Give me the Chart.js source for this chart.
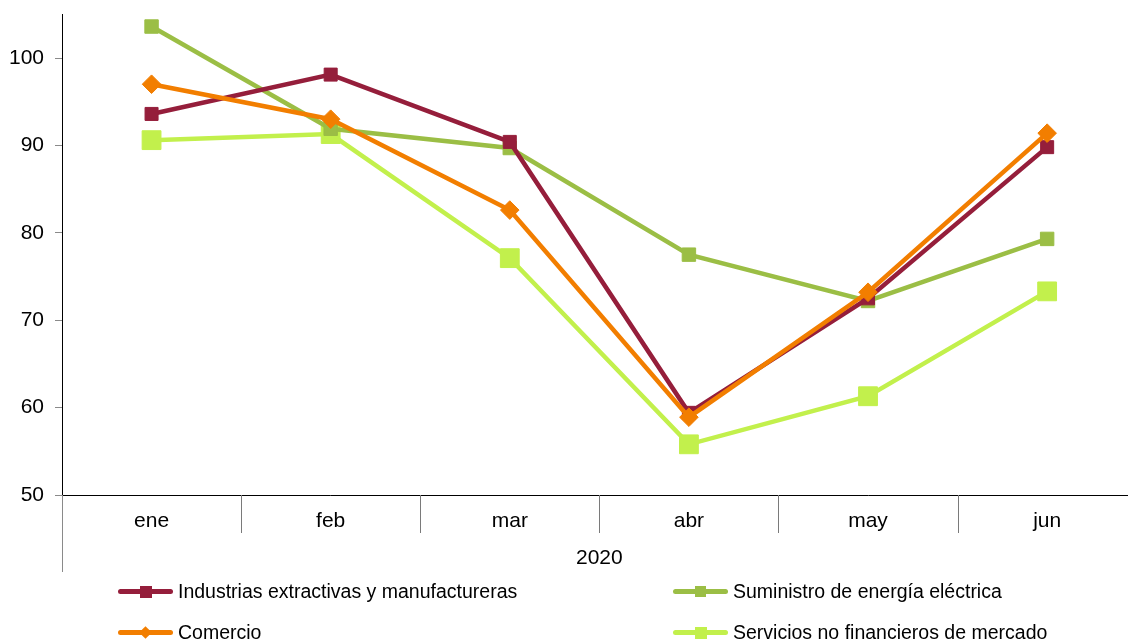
<!DOCTYPE html>
<html>
<head>
<meta charset="utf-8">
<script src="https://cdn.jsdelivr.net/npm/chart.js@4/dist/chart.umd.min.js"></script>
<style>
  html, body { margin: 0; padding: 0; background: #fff; overflow: hidden; width: 1128px; height: 640px; }
  #wrap { position: absolute; left: 0; top: 0; width: 1151px; height: 640px; }
  .leg { position: absolute; font-family: "Liberation Sans", Arial, sans-serif; font-size: 19.5px; color: #000; white-space: nowrap; line-height: 22px; }
  .leg .ln { position: absolute; left: 0; top: 9px; width: 55px; height: 5px; border-radius: 2.5px; }
  .leg .mk { position: absolute; }
  .leg .tx { position: absolute; left: 60px; top: 0; }
</style>
</head>
<body>
<div id="wrap"><canvas id="c" width="1151" height="640"></canvas></div>
<div id="legend"></div>
<script>
const categories = ["ene", "feb", "mar", "abr", "may", "jun"];
const groupLabel = "2020";
const seriesNames = [
  "Industrias extractivas y manufactureras",
  "Suministro de energía eléctrica",
  "Comercio",
  "Servicios no financieros de mercado"
];
const industrias = [93.6, 98.1, 90.4, 59.4, 72.5, 89.8];
const suministro = [103.6, 91.9, 89.7, 77.5, 72.2, 79.3];
const comercio   = [97.0, 93.0, 82.6, 58.9, 73.2, 91.4];
const servicios  = [90.6, 91.3, 77.1, 55.8, 61.3, 73.3];
const yTicks = [50, 60, 70, 80, 90, 100];
const colors = ["#951E3B", "#9BBE45", "#F27E00", "#C2F04C"];

const font = { family: "'Liberation Sans', Arial, sans-serif", size: 21 };

const extras = {
  id: 'extras',
  afterDraw(chart) {
    const ctx = chart.ctx;
    const xs = chart.scales.x;
    const ca = chart.chartArea;
    ctx.save();
    ctx.strokeStyle = '#7a7a7a';
    ctx.lineWidth = 1;
    for (let i = 1; i < categories.length + 1; i++) {
      const x = Math.round(xs.getPixelForValue(i - 0.5)) + 0.5;
      ctx.beginPath();
      ctx.moveTo(x, ca.bottom);
      ctx.lineTo(x, ca.bottom + 38);
      ctx.stroke();
    }
    const lx = Math.round(ca.left) + 0.5;
    ctx.strokeStyle = '#8a8a8a';
    ctx.beginPath();
    ctx.moveTo(lx, ca.bottom);
    ctx.lineTo(lx, 572);
    ctx.stroke();
    ctx.fillStyle = '#000';
    ctx.font = font.size + "px " + font.family;
    ctx.textAlign = 'center';
    ctx.textBaseline = 'middle';
    ctx.fillText(groupLabel, (ca.left + ca.right) / 2, 558);
    ctx.restore();
  }
};

function ds(i, data, style, radius, order) {
  return {
    label: seriesNames[i],
    data: data,
    borderColor: colors[i],
    backgroundColor: colors[i],
    borderWidth: 4.5,
    pointStyle: style,
    pointRadius: radius,
    pointHoverRadius: radius,
    pointBorderWidth: 1,
    pointBorderColor: colors[i],
    pointBackgroundColor: colors[i],
    tension: 0,
    order: order
  };
}

new Chart(document.getElementById('c'), {
  type: 'line',
  data: {
    labels: categories,
    datasets: [
      ds(0, industrias, 'rect', 9.2, 2),
      ds(1, suministro, 'rect', 9.5, 3),
      ds(2, comercio, 'rectRot', 9.3, 1),
      ds(3, servicios, 'rect', 13.3, 4)
    ]
  },
  options: {
    responsive: false,
    animation: false,
    events: [],
    layout: { padding: { top: 13, right: 3, left: 0, bottom: 0 } },
    plugins: { legend: { display: false }, tooltip: { enabled: false } },
    scales: {
      x: {
        type: 'category',
        offset: true,
        grid: { display: false },
        border: { display: true, color: '#000', width: 1 },
        ticks: { color: '#000', font: font, padding: 6, maxRotation: 0 },
        afterFit(scale) { scale.height = 145; scale.paddingLeft = 0; scale.paddingRight = 0; }
      },
      y: {
        min: 50,
        max: 105,
        grid: { display: true, drawOnChartArea: false, drawTicks: true, tickLength: 7, color: '#8a8a8a' },
        border: { display: true, color: '#000', width: 1 },
        ticks: { stepSize: 10, color: '#000', font: font, padding: 11 },
        afterBuildTicks(scale) { scale.ticks = yTicks.map(v => ({ value: v })); },
        afterFit(scale) { scale.width = 62; scale.paddingTop = 0; scale.paddingBottom = 0; }
      }
    }
  },
  plugins: [extras]
});

// HTML legend
const legendPos = [
  { x: 118, y: 580, marker: 'sq', size: 12 },
  { x: 673, y: 580, marker: 'sq', size: 11 },
  { x: 118, y: 621, marker: 'dm', size: 9 },
  { x: 673, y: 621, marker: 'sq', size: 12 }
];
const legend = document.getElementById('legend');
seriesNames.forEach((name, i) => {
  const p = legendPos[i];
  const d = document.createElement('div');
  d.className = 'leg';
  d.style.left = p.x + 'px';
  d.style.top = p.y + 'px';
  const ln = document.createElement('div');
  ln.className = 'ln';
  ln.style.background = colors[i];
  d.appendChild(ln);
  const mk = document.createElement('div');
  mk.className = 'mk';
  mk.style.background = colors[i];
  mk.style.width = p.size + 'px';
  mk.style.height = p.size + 'px';
  mk.style.left = (27.5 - p.size / 2) + 'px';
  mk.style.top = (11.5 - p.size / 2) + 'px';
  if (p.marker === 'dm') mk.style.transform = 'rotate(45deg)';
  d.appendChild(mk);
  const tx = document.createElement('span');
  tx.className = 'tx';
  tx.textContent = name;
  d.appendChild(tx);
  legend.appendChild(d);
});
</script>
</body>
</html>
